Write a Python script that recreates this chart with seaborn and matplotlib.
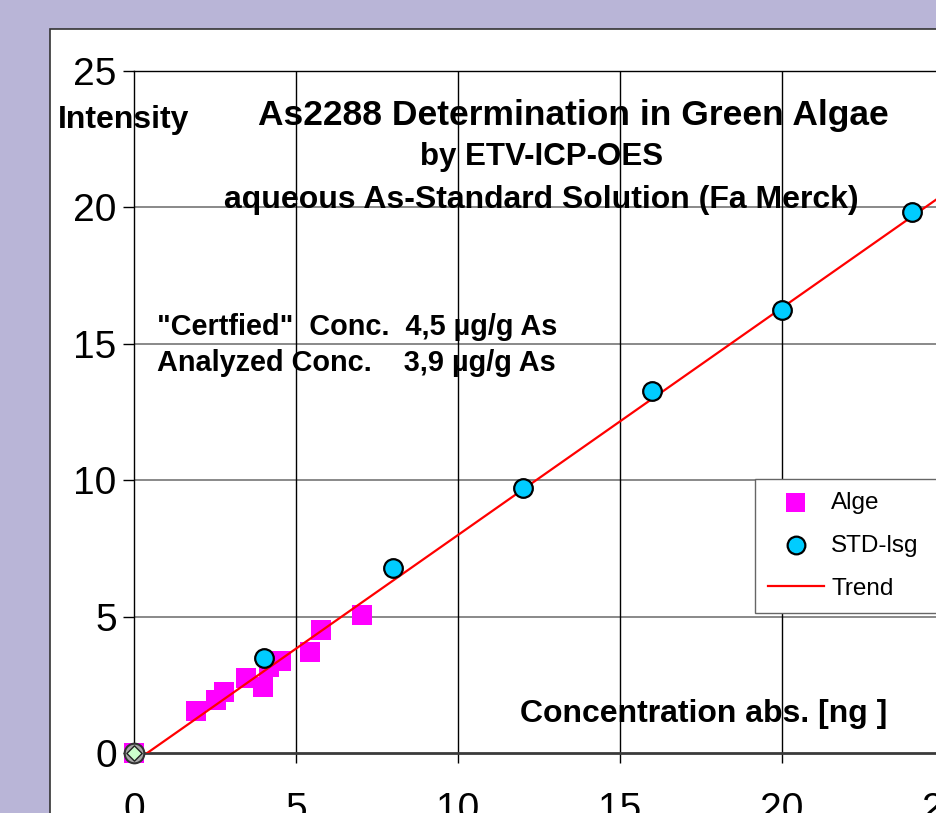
import matplotlib
matplotlib.use("Agg")
import matplotlib.pyplot as plt
import seaborn as sns
import pandas as pd
from matplotlib.patches import Rectangle

plt.rcParams['font.family'] = ['Liberation Sans', 'DejaVu Sans']

# ---- data ----
alge_x = [0.0, 1.91, 2.52, 2.79, 3.46, 3.99, 4.18, 4.54, 5.43, 5.76, 7.04]
alge_y = [0.0, 1.54, 1.94, 2.25, 2.74, 2.41, 3.14, 3.38, 3.71, 4.50, 5.06]
std_x = [4, 8, 12, 16, 20, 24]
std_y = [3.48, 6.78, 9.71, 13.27, 16.24, 19.83]
blank_x = [0]
blank_y = [0]
trend_x = [0, 26]
trend_y = [-0.34, 21.32]
ticks = [0, 5, 10, 15, 20, 25]

W, H = 937, 813
fig = plt.figure(figsize=(W / 100, H / 100), dpi=100)
fig.patch.set_facecolor('#B9B5D7')

def fx(px):
    return px / W

def fy(py):
    return 1 - py / H

# white panel
panel = Rectangle((fx(50), -0.2), 1.2, fy(29) + 0.2, transform=fig.transFigure,
                  facecolor='white', edgecolor='#333333', linewidth=1.2, zorder=-5)
fig.patches.append(panel)

ax = fig.add_axes([fx(134), fy(753), (944 - 134) / W, (753 - 71) / H])
ax.set_zorder(2)
ax.set_facecolor('white')
ax.set_xlim(0, 25)
ax.set_ylim(0, 25)
ax.set_xticks(ticks)
ax.set_yticks(ticks)
ax.set_xticklabels([str(t) for t in ticks])
ax.set_yticklabels([str(t) for t in ticks])
ax.tick_params(axis='y', direction='out', length=8, width=1, pad=4.5, labelsize=28, colors='black')
ax.tick_params(axis='x', direction='out', length=7, width=1, pad=21, labelsize=28, colors='black')

for t in ticks[1:-1]:
    ax.axhline(t, color='#6a6a6a', lw=1.1, zorder=1)
for t in ticks[1:]:
    ax.axvline(t, color='black', lw=1.0, zorder=1)

ax.spines['right'].set_visible(False)
ax.spines['top'].set_color('black')
ax.spines['top'].set_linewidth(1.0)
ax.spines['left'].set_color('black')
ax.spines['left'].set_linewidth(1.0)
ax.spines['bottom'].set_color('#3a3a3a')
ax.spines['bottom'].set_linewidth(2.0)

df_alge = pd.DataFrame({'x': alge_x, 'y': alge_y})
df_std = pd.DataFrame({'x': std_x, 'y': std_y})
df_trend = pd.DataFrame({'x': trend_x, 'y': trend_y})

sns.scatterplot(data=df_alge, x='x', y='y', ax=ax, marker='s', s=205, color='#FF00FF',
                edgecolor='none', linewidth=0, label='Alge', zorder=3, clip_on=False)
sns.scatterplot(data=df_std, x='x', y='y', ax=ax, marker='o', s=180, color='#00CCFF',
                edgecolor='black', linewidth=1.6, label='STD-lsg', zorder=5, clip_on=False)
sns.lineplot(data=df_trend, x='x', y='y', ax=ax, color='#FF0000', linewidth=1.6,
             label='Trend', zorder=4)
ax.scatter(blank_x, blank_y, marker='o', s=200, color='#A8A8A8', edgecolor='#333333',
           linewidth=1.5, zorder=6, clip_on=False)
ax.scatter(blank_x, blank_y, marker='D', s=60, color='#CCFFCC', edgecolor='#222222',
           linewidth=1.0, zorder=7, clip_on=False)

ax.set_xlabel('')
ax.set_ylabel('')

leg = ax.legend(loc='upper left',
                bbox_to_anchor=(fx(755), fy(612), fx(965) - fx(755), fy(479) - fy(612)),
                bbox_transform=fig.transFigure, mode='expand',
                borderaxespad=0, fontsize=17.5, frameon=True, fancybox=False, framealpha=1,
                edgecolor='#666666', labelspacing=0.86, handlelength=2.3, handletextpad=0.3,
                borderpad=0.53, markerscale=0.95)
leg.get_frame().set_linewidth(1.0)
leg.set_zorder(10)

ax.text(fx(58), fy(128), 'Intensity', fontsize=23, fontweight='bold', ha='left', va='baseline',
        transform=fig.transFigure, zorder=8)
ax.text(fx(573), fy(125), 'As2288 Determination in Green Algae', fontsize=25.5, fontweight='bold',
        ha='center', va='baseline', transform=fig.transFigure, zorder=8)
ax.text(fx(541.5), fy(165), 'by ETV-ICP-OES', fontsize=22.5, fontweight='bold', ha='center',
        va='baseline', transform=fig.transFigure, zorder=8)
ax.text(fx(541), fy(208), 'aqueous As-Standard Solution (Fa Merck)', fontsize=23, fontweight='bold',
        ha='center', va='baseline', transform=fig.transFigure, zorder=8)
ax.text(fx(157), fy(335), '"Certfied"  Conc.  4,5 µg/g As', fontsize=20.8, fontweight='bold',
        ha='left', va='baseline', transform=fig.transFigure, zorder=8)
ax.text(fx(157), fy(371), 'Analyzed Conc.    3,9 µg/g As', fontsize=20.8, fontweight='bold',
        ha='left', va='baseline', transform=fig.transFigure, zorder=8)
ax.text(fx(887), fy(722), 'Concentration abs. [ng ]', fontsize=23, fontweight='bold',
        ha='right', va='baseline', transform=fig.transFigure, zorder=8)

fig.savefig('out.png', dpi=100)
